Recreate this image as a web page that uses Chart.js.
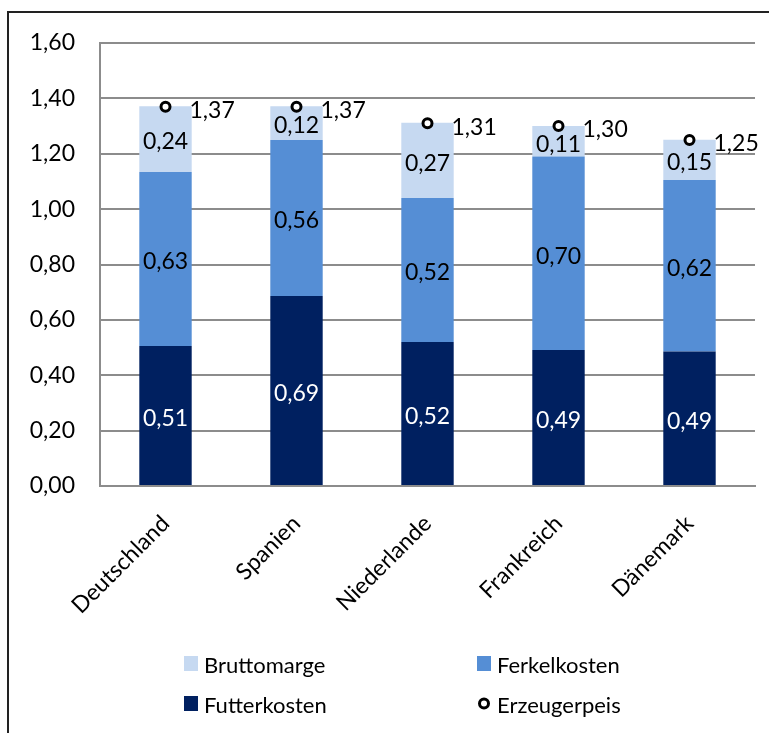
<!DOCTYPE html>
<html><head><meta charset="utf-8">
<script src="https://cdn.jsdelivr.net/npm/chart.js@4"></script>
<style>
html,body{margin:0;padding:0;background:#fff;overflow:hidden;}
#wrap{position:relative;width:769px;height:733px;overflow:hidden;}
#frame{position:absolute;left:7px;top:11px;width:800px;height:800px;border:2px solid #222;box-sizing:border-box;}
canvas{position:absolute;left:0;top:0;}
</style></head><body>
<div id="wrap"><div id="frame"></div><canvas id="c" width="769" height="733"></canvas></div>
<script>
const categories = ['Deutschland', 'Spanien', 'Niederlande', 'Frankreich', 'Dänemark'];
const futterkosten = [0.506, 0.686, 0.52, 0.491, 0.486];
const ferkelkosten = [0.628, 0.564, 0.52, 0.699, 0.619];
const bruttomarge = [0.238, 0.122, 0.272, 0.11, 0.146];
const erzeugerpreis = [1.37, 1.37, 1.31, 1.30, 1.25];
const yMin = 0, yMax = 1.6, yStep = 0.2;

const FONT = 'Lato, "Open Sans", sans-serif';
const FS = 23;
const fmt = v => v.toFixed(2).replace('.', ',');

const valuePlugin = {
  id: 'values',
  afterDatasetsDraw(chart) {
    const ctx = chart.ctx;
    ctx.save();
    ctx.font = FS + 'px ' + FONT;
    chart.data.datasets.forEach((ds, i) => {
      const meta = chart.getDatasetMeta(i);
      meta.data.forEach((el, j) => {
        const txt = fmt(ds.data[j]);
        if (meta.type === 'bar') {
          const c = el.getCenterPoint();
          ctx.fillStyle = ds.labelColor;
          ctx.textAlign = 'center';
          ctx.textBaseline = 'middle';
          ctx.fillText(txt, c.x, c.y + 3);
        } else {
          ctx.fillStyle = '#000';
          ctx.textAlign = 'left';
          ctx.textBaseline = 'middle';
          ctx.fillText(txt, el.x + 24, el.y + 4);
        }
      });
    });
    ctx.restore();
  }
};

const legendPlugin = {
  id: 'gridLegend',
  afterDraw(chart) {
    const ctx = chart.ctx;
    const ds = chart.data.datasets;
    const left = chart.chartArea.left;
    const cols = [left + 84, left + 377];
    const rows = [chart.height - 69.5, chart.height - 29.5];
    const items = [
      {d: ds[2], c: 0, r: 0},
      {d: ds[1], c: 1, r: 0},
      {d: ds[0], c: 0, r: 1},
      {d: ds[3], c: 1, r: 1}
    ];
    ctx.save();
    ctx.font = '22px ' + FONT;
    ctx.textBaseline = 'middle';
    ctx.textAlign = 'left';
    items.forEach(it => {
      const x = cols[it.c], y = rows[it.r];
      if (it.d.type === 'line') {
        ctx.beginPath();
        ctx.arc(x + 7, y, 4.5, 0, Math.PI * 2);
        ctx.fillStyle = '#fff';
        ctx.fill();
        ctx.lineWidth = 3;
        ctx.strokeStyle = '#000';
        ctx.stroke();
      } else {
        ctx.fillStyle = it.d.backgroundColor;
        ctx.fillRect(x, y - 7.5, 14, 15);
      }
      ctx.fillStyle = '#000';
      ctx.fillText(it.d.label, x + 20, y + 2);
    });
    ctx.restore();
  }
};

new Chart(document.getElementById('c'), {
  type: 'bar',
  data: {
    labels: categories,
    datasets: [
      {label: 'Futterkosten', data: futterkosten, backgroundColor: '#002060', labelColor: '#fff', stack: 'cost', order: 1, barPercentage: 0.4, categoryPercentage: 1},
      {label: 'Ferkelkosten', data: ferkelkosten, backgroundColor: '#558ed5', labelColor: '#000', stack: 'cost', order: 1, barPercentage: 0.4, categoryPercentage: 1},
      {label: 'Bruttomarge', data: bruttomarge, backgroundColor: '#c6d9f1', labelColor: '#000', stack: 'cost', order: 1, barPercentage: 0.4, categoryPercentage: 1},
      {label: 'Erzeugerpeis', type: 'line', data: erzeugerpreis, stack: 'price', order: 0, showLine: false,
       pointRadius: 4.5, pointBorderWidth: 3, pointBackgroundColor: '#fff', pointBorderColor: '#000', borderColor: '#000', backgroundColor: '#fff'}
    ]
  },
  options: {
    responsive: false,
    animation: false,
    devicePixelRatio: 1,
    layout: {padding: {left: 0, right: 14, top: 43, bottom: 103}},
    plugins: {legend: {display: false}, tooltip: {enabled: false}},
    scales: {
      x: {
        stacked: true,
        grid: {display: false},
        border: {display: true, color: '#8c8c8c', width: 2},
        ticks: {color: '#000', font: {family: FONT, size: FS}, maxRotation: 45, minRotation: 45, padding: 16},
        afterFit(s) { s.height = 144; }
      },
      y: {
        stacked: true,
        min: yMin, max: yMax,
        ticks: {stepSize: yStep, color: '#000', font: {family: FONT, size: FS}, padding: 25, callback: v => fmt(v)},
        grid: {color: '#8c8c8c', lineWidth: 2, drawTicks: false},
        border: {display: true, color: '#8c8c8c', width: 2},
        afterFit(s) { s.width = 100; }
      }
    }
  },
  plugins: [valuePlugin, legendPlugin]
});
</script>
</body></html>
